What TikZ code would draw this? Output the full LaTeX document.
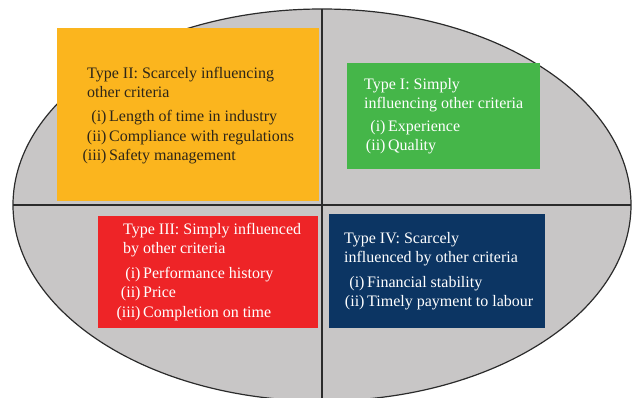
\documentclass[tikz,border=0pt]{standalone}
\usepackage{fontspec}
\setmainfont{Liberation Serif}
\definecolor{ellgray}{HTML}{C8C6C6}
\definecolor{edgegray}{HTML}{2B2B2B}
\definecolor{typeone}{HTML}{45B649}
\definecolor{typetwo}{HTML}{FBB51E}
\definecolor{typethree}{HTML}{EE2427}
\definecolor{typefour}{HTML}{0C3563}
\definecolor{darktext}{HTML}{2E2618}
\tikzset{
  typebox/.style={rectangle, inner sep=0pt, anchor=north west},
  heading/.style={anchor=base west, inner sep=0pt, align=left,
    font=\fontsize{16}{19}\selectfont},
  itemlist/.style={anchor=base west, inner sep=0pt, align=left,
    font=\fontsize{16}{19.5}\selectfont},
}
\begin{document}
\begin{tikzpicture}[x=1pt, y=-1pt]
    \useasboundingbox (0,0) rectangle (635,398);

    % Ellipse and quadrant lines
    \draw[fill=ellgray, draw=edgegray, line width=1.2pt] (322,205) ellipse [x radius=309, y radius=196];
    \coordinate (top) at (322,9);
    \coordinate (bottom) at (322,398);
    \coordinate (left) at (13,205);
    \coordinate (right) at (631,205);
    \draw[edgegray, line width=1.5pt] (top) -- (bottom);
    \draw[edgegray, line width=1.5pt] (left) -- (right);

    % Type II (anchored on the last baseline)
    \node[typebox, fill=typetwo, minimum width=262pt, minimum height=173pt] (boxII) at (57,28) {};
    \node[heading, text=darktext] (headII) at (87,98) {Type II: Scarcely influencing\\other criteria};
    \node[itemlist, text=darktext] (listII) at (109,161) {\llap{(i)\,}Length of time in industry\\\llap{(ii)\,}Compliance with regulations\\\llap{(iii)\,}Safety management};

    % Type I
    \node[typebox, fill=typeone, minimum width=193pt, minimum height=106pt] (boxI) at (347,63) {};
    \node[heading, text=white] (headI) at (364,109) {Type I: Simply\\influencing other criteria};
    \node[itemlist, text=white] (listI) at (388,151) {\llap{(i)\,}Experience\\\llap{(ii)\,}Quality};

    % Type III
    \node[typebox, fill=typethree, minimum width=220pt, minimum height=112pt] (boxIII) at (98,216) {};
    \node[heading, text=white] (headIII) at (123,254) {Type III: Simply influenced\\by other criteria};
    \node[itemlist, text=white] (listIII) at (143,317) {\llap{(i)\,}Performance history\\\llap{(ii)\,}Price\\\llap{(iii)\,}Completion on time};

    % Type IV
    \node[typebox, fill=typefour, minimum width=216pt, minimum height=114pt] (boxIV) at (329,214) {};
    \node[heading, text=white] (headIV) at (344,263) {Type IV: Scarcely\\influenced by other criteria};
    \node[itemlist, text=white] (listIV) at (367,307) {\llap{(i)\,}Financial stability\\\llap{(ii)\,}Timely payment to labour};

\end{tikzpicture}
\end{document}
